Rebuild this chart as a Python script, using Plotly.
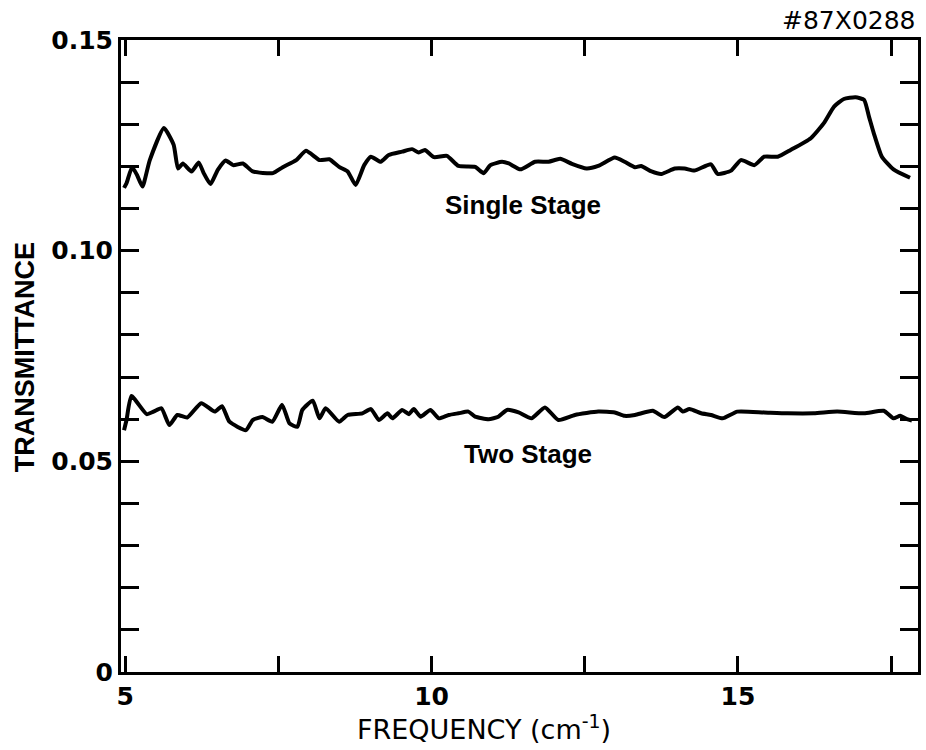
import plotly.graph_objects as go

# Frequency (cm^-1) and transmittance for the single-stage filter
single_freq = [4.98, 5.02, 5.11, 5.19, 5.28, 5.40, 5.63, 5.79, 5.86, 5.94, 6.08, 6.20, 6.28,
               6.39, 6.51, 6.64, 6.76, 6.92, 7.08, 7.41, 7.57, 7.79, 7.95, 8.17, 8.33, 8.49,
               8.63, 8.76, 8.90, 9.01, 9.17, 9.30, 9.52, 9.68, 9.79, 9.89, 10.04, 10.25, 10.44,
               10.71, 10.85, 10.96, 11.15, 11.26, 11.45, 11.69, 11.91, 12.10, 12.29, 12.53,
               12.72, 12.99, 13.15, 13.32, 13.42, 13.59, 13.75, 13.97, 14.13, 14.29, 14.56,
               14.67, 14.89, 15.05, 15.27, 15.43, 15.65, 15.86, 16.19, 16.40, 16.57, 16.73,
               16.92, 17.06, 17.14, 17.22, 17.35, 17.54, 17.81]
single_trans = [0.1149, 0.1160, 0.1198, 0.1180, 0.1152, 0.1215, 0.1291, 0.1251, 0.1195, 0.1207,
                0.1188, 0.1209, 0.1184, 0.1158, 0.1192, 0.1214, 0.1203, 0.1207, 0.1188, 0.1184,
                0.1198, 0.1215, 0.1237, 0.1215, 0.1217, 0.1199, 0.1188, 0.1156, 0.1203, 0.1223,
                0.1211, 0.1227, 0.1235, 0.1241, 0.1233, 0.1239, 0.1222, 0.1225, 0.1201, 0.1199,
                0.1184, 0.1203, 0.1211, 0.1207, 0.1193, 0.1211, 0.1211, 0.1218, 0.1206, 0.1195,
                0.1201, 0.1221, 0.1211, 0.1198, 0.1201, 0.1188, 0.1182, 0.1195, 0.1195, 0.1190,
                0.1205, 0.1182, 0.1190, 0.1215, 0.1203, 0.1223, 0.1223, 0.1239, 0.1267, 0.1302,
                0.1342, 0.1360, 0.1364, 0.1358, 0.1318, 0.1278, 0.1223, 0.1193, 0.1173]

# Frequency (cm^-1) and transmittance for the two-stage filter
two_freq = [4.98, 5.02, 5.10, 5.35, 5.46, 5.59, 5.72, 5.85, 6.01, 6.24, 6.46, 6.58, 6.70,
            6.97, 7.08, 7.24, 7.40, 7.56, 7.68, 7.81, 7.89, 8.06, 8.17, 8.27, 8.49, 8.63,
            8.87, 9.01, 9.14, 9.28, 9.36, 9.52, 9.63, 9.71, 9.82, 9.98, 10.12, 10.28, 10.44,
            10.60, 10.71, 10.93, 11.09, 11.23, 11.42, 11.63, 11.85, 12.07, 12.34, 12.72,
            12.99, 13.15, 13.32, 13.61, 13.80, 14.02, 14.10, 14.21, 14.40, 14.56, 14.75,
            14.99, 15.43, 15.81, 16.24, 16.62, 17.06, 17.38, 17.54, 17.65, 17.76, 17.84]
two_trans = [0.0574, 0.0598, 0.0655, 0.0612, 0.0618, 0.0626, 0.0586, 0.0610, 0.0604, 0.0638,
             0.0618, 0.0631, 0.0594, 0.0574, 0.0598, 0.0605, 0.0594, 0.0634, 0.0590, 0.0582,
             0.0622, 0.0644, 0.0602, 0.0626, 0.0594, 0.0610, 0.0614, 0.0624, 0.0598, 0.0614,
             0.0602, 0.0622, 0.0612, 0.0624, 0.0606, 0.0622, 0.0602, 0.0610, 0.0614, 0.0618,
             0.0606, 0.0600, 0.0606, 0.0622, 0.0616, 0.0602, 0.0628, 0.0598, 0.0610, 0.0618,
             0.0616, 0.0608, 0.0610, 0.0620, 0.0605, 0.0628, 0.0618, 0.0624, 0.0614, 0.0610,
             0.0602, 0.0618, 0.0616, 0.0614, 0.0614, 0.0618, 0.0614, 0.0620, 0.0602, 0.0608,
             0.0600, 0.0597]

x_tickvals = [5, 7.5, 10, 12.5, 15, 17.5]
x_ticktext = ["<b>5</b>", "", "<b>10</b>", "", "<b>15</b>", ""]
y_tickvals = [i / 100 for i in range(16)]
y_ticktext = []
for v in y_tickvals:
    hundredths = round(v * 100)
    if hundredths == 0:
        y_ticktext.append("<b>0</b>")
    elif hundredths % 5 == 0:
        y_ticktext.append("<b>0.%02d</b>" % hundredths)
    else:
        y_ticktext.append("")

label_font = dict(family="DejaVu Sans", size=25, color="black")
curve_font = dict(family="Liberation Sans Narrow, Liberation Sans, Arial", size=26, color="black")

fig = go.Figure()
line_style = dict(color="black", width=4, shape="spline", smoothing=0.5)
fig.add_trace(go.Scatter(x=single_freq, y=single_trans, mode="lines", line=line_style,
                         name="Single Stage", showlegend=False))
fig.add_trace(go.Scatter(x=two_freq, y=two_trans, mode="lines", line=line_style,
                         name="Two Stage", showlegend=False))

fig.update_layout(
    width=926, height=750,
    margin=dict(l=121, r=5, t=40, b=78),
    paper_bgcolor="white", plot_bgcolor="white",
    showlegend=False,
)
fig.update_xaxes(
    range=[4.93, 17.94], showgrid=False, zeroline=False,
    showline=True, linecolor="black", linewidth=3, mirror="ticks",
    ticks="inside", ticklen=16, tickwidth=2.5, tickcolor="black",
    tickvals=x_tickvals, ticktext=x_ticktext, tickfont=label_font,
)
fig.update_yaxes(
    range=[0, 0.15], showgrid=False, zeroline=False,
    showline=True, linecolor="black", linewidth=3, mirror="ticks",
    ticks="inside", ticklen=18, tickwidth=2.5, tickcolor="black",
    tickvals=y_tickvals, ticktext=y_ticktext, tickfont=label_font,
)

# plot area in pixels, used to place the text labels
plot_l, plot_t, plot_w, plot_h = 121, 40, 800, 632


def px_to_paper(px, py):
    return (px - plot_l) / plot_w, 1 - (py - plot_t) / plot_h


annotations = []
for text, px, py in [("<b>Single Stage</b>", 525, 205), ("<b>Two Stage</b>", 530, 454)]:
    ax, ay = px_to_paper(px, py)
    annotations.append(dict(text=text, x=ax, y=ay, xref="paper", yref="paper",
                            showarrow=False, xanchor="center", yanchor="middle",
                            font=curve_font))

ax, ay = px_to_paper(25, 357)
annotations.append(dict(text="<b>TRANSMITTANCE</b>", x=ax, y=ay, xref="paper", yref="paper",
                        showarrow=False, textangle=-90, xanchor="center", yanchor="middle",
                        font=dict(family="Liberation Sans, Arial", size=27, color="black")))
ax, ay = px_to_paper(485, 727)
annotations.append(dict(text="FREQUENCY (cm<sup>-1</sup>)", x=ax, y=ay,
                        xref="paper", yref="paper", showarrow=False,
                        xanchor="center", yanchor="middle",
                        font=dict(family="DejaVu Sans", size=27, color="black")))
ax, ay = px_to_paper(921, 20)
annotations.append(dict(text="#87X0288", x=ax, y=ay, xref="paper", yref="paper",
                        showarrow=False, xanchor="right", yanchor="middle",
                        font=dict(family="DejaVu Sans", size=25, color="black")))
fig.update_layout(annotations=annotations)

fig.write_html("out.html")
